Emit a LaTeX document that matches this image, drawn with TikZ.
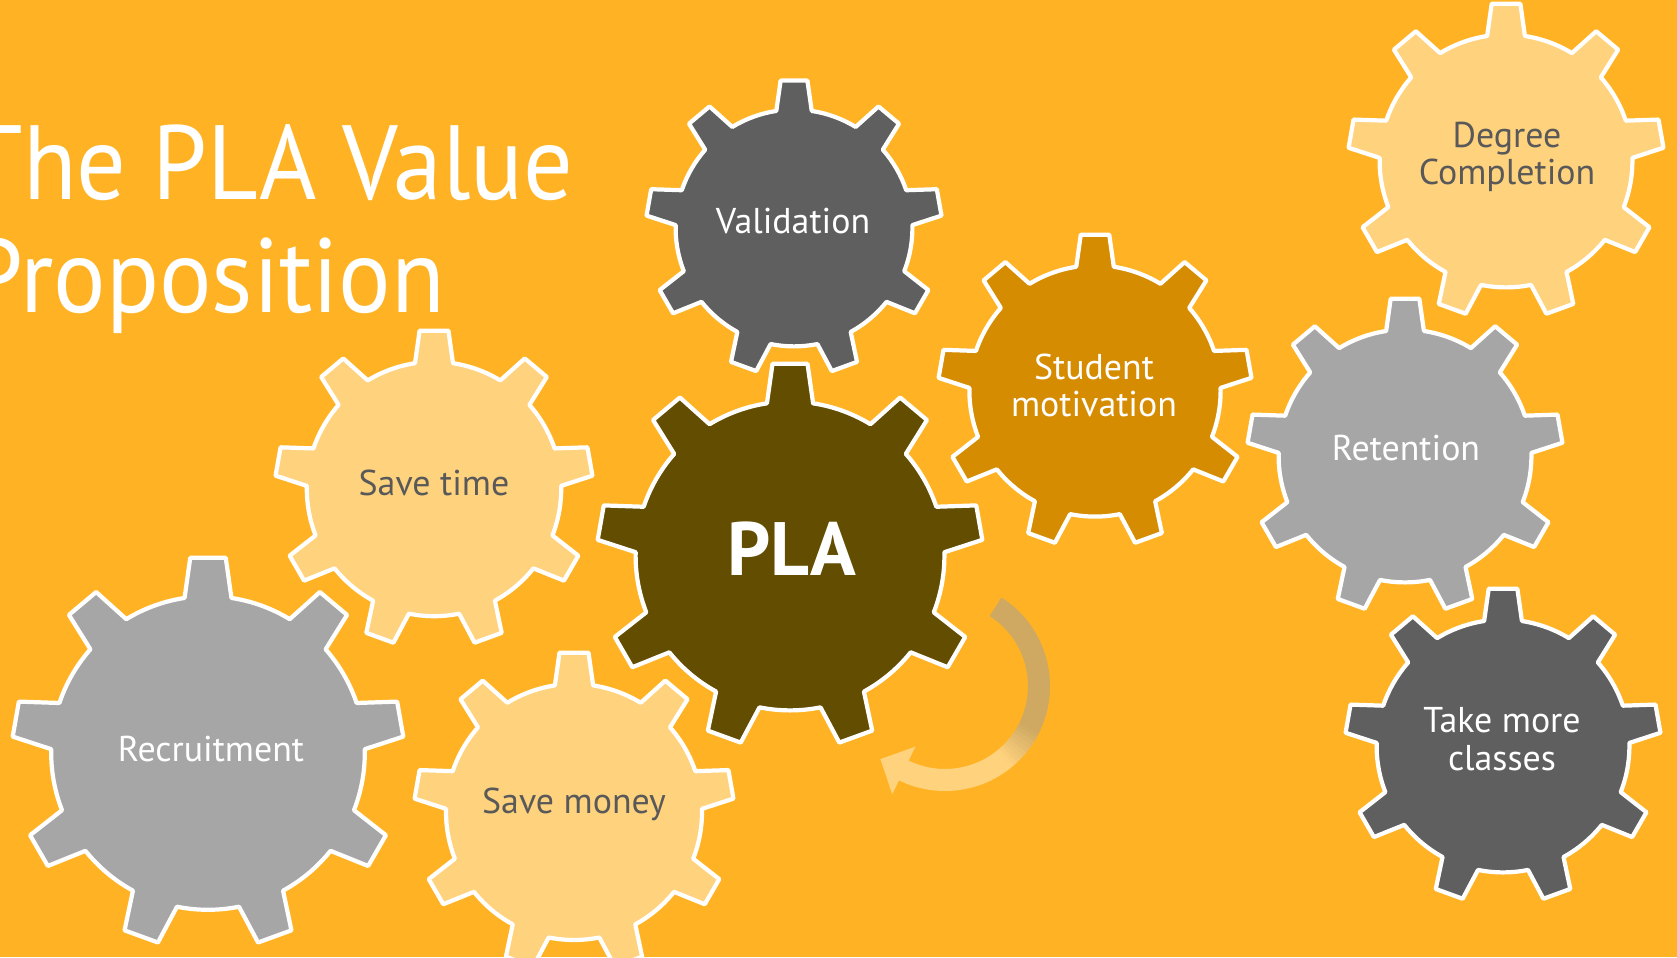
\documentclass[tikz,border=0pt]{standalone}
\usepackage{fontspec}
\setmainfont{PT Sans}
\newfontfamily\titlefont[FakeStretch=0.93]{PT Sans}
\usetikzlibrary{calc}
\definecolor{slide}{RGB}{255,179,36}
\definecolor{cream}{RGB}{255,210,126}
\definecolor{ash}{RGB}{166,166,166}
\definecolor{slate}{RGB}{95,95,95}
\definecolor{amber}{RGB}{213,140,0}
\definecolor{plabrown}{RGB}{98,77,0}
\definecolor{arrowtan}{RGB}{207,169,98}
\definecolor{ink}{RGB}{89,89,89}
\def\gear[#1](#2,#3)(#4){\draw[#1, shift={(#2,#3)}] (81.4:0.8*#4) \foreach \a in {90,130,...,410} { -- (\a-5.2:#4) -- (\a+5.2:#4) -- (\a+8.6:0.8*#4) arc[start angle=\a+8.6, end angle=\a+31.4, radius=0.8*#4] } -- cycle;}

\begin{document}
\begin{tikzpicture}[x=0.01cm, y=0.01cm,
		cog/.style={draw=white, line width=1.2pt, line join=round},
		cogtext/.style={font=\fontsize{10.2}{10.8}\selectfont, align=center, inner sep=0pt}]
			%%%%% START %%%%%
			
			\useasboundingbox (0,0) rectangle (1677,957);
			\fill[slide] (0,0) rectangle (1677,957);
			
			\node[anchor=base west, align=left, text=white, inner sep=0pt, font=\titlefont\fontsize{30}{32.4}\selectfont] (title) at (-32,644) {The PLA Value\\Proposition};
			
			\gear[cog, fill=ash](208,204)(196);
			\node[cogtext, text=white, anchor=base] (recruit) at (211,196) {Recruitment};
			
			\gear[cog, fill=cream](434,468)(159);
			\node[cogtext, text=ink, anchor=base] (time) at (434,462) {Save time};
			
			\gear[cog, fill=cream](574,145)(160);
			\node[cogtext, text=ink, anchor=base] (money) at (574,144) {Save money};
			
			\gear[cog, fill=plabrown](790,401)(193);
			\node[text=white, anchor=base, inner sep=0pt, font=\fontsize{21.5}{24}\selectfont\bfseries] (pla) at (792,382) {PLA};
			
			\gear[cog, fill=slate](794,729)(148);
			\node[cogtext, text=white, anchor=base] (valid) at (793,723) {Validation};
			
			\gear[cog, fill=amber](1095,566)(157);
			\node[cogtext, text=white, anchor=base] (motiv) at (1094,540) {Student\\motivation};
			
			\gear[cog, fill=ash](1405,501)(158);
			\node[cogtext, text=white, anchor=base] (retain) at (1406,496) {Retention};
			
			\gear[cog, fill=cream](1506,796)(158);
			\node[cogtext, text=ink, anchor=base] (degree) at (1507,772) {Degree\\Completion};
			
			\gear[cog, fill=slate](1503,211)(158);
			\node[cogtext, text=white, anchor=base] (classes) at (1502,187) {Take more\\classes};
			
			% turning arrow beside the PLA gear
			\coordinate (spin) at (945,271);
			\foreach \i in {0,...,69} {
				\pgfmathsetmacro\a{57.5-\i*2.479}
				\pgfmathsetmacro\b{\a-2.9}
				\pgfmathsetmacro\m{min(100,max(0,(-25-\a)*4))}
				\fill[cream!\m!arrowtan] ($(spin)+(\a:105)$) arc[start angle=\a, end angle=\b, radius=105] -- ($(spin)+(\b:83)$) arc[start angle=\b, end angle=\a, radius=83] -- cycle;
			}
			\fill[cream] ($(spin)+(-116:120.5)$) -- ($(spin)+(-116:67.5)$) -- ($(spin)+(-116:94)+(154:26)$) -- cycle;
			
			%%%%% END %%%%%
\end{tikzpicture}
\end{document}
